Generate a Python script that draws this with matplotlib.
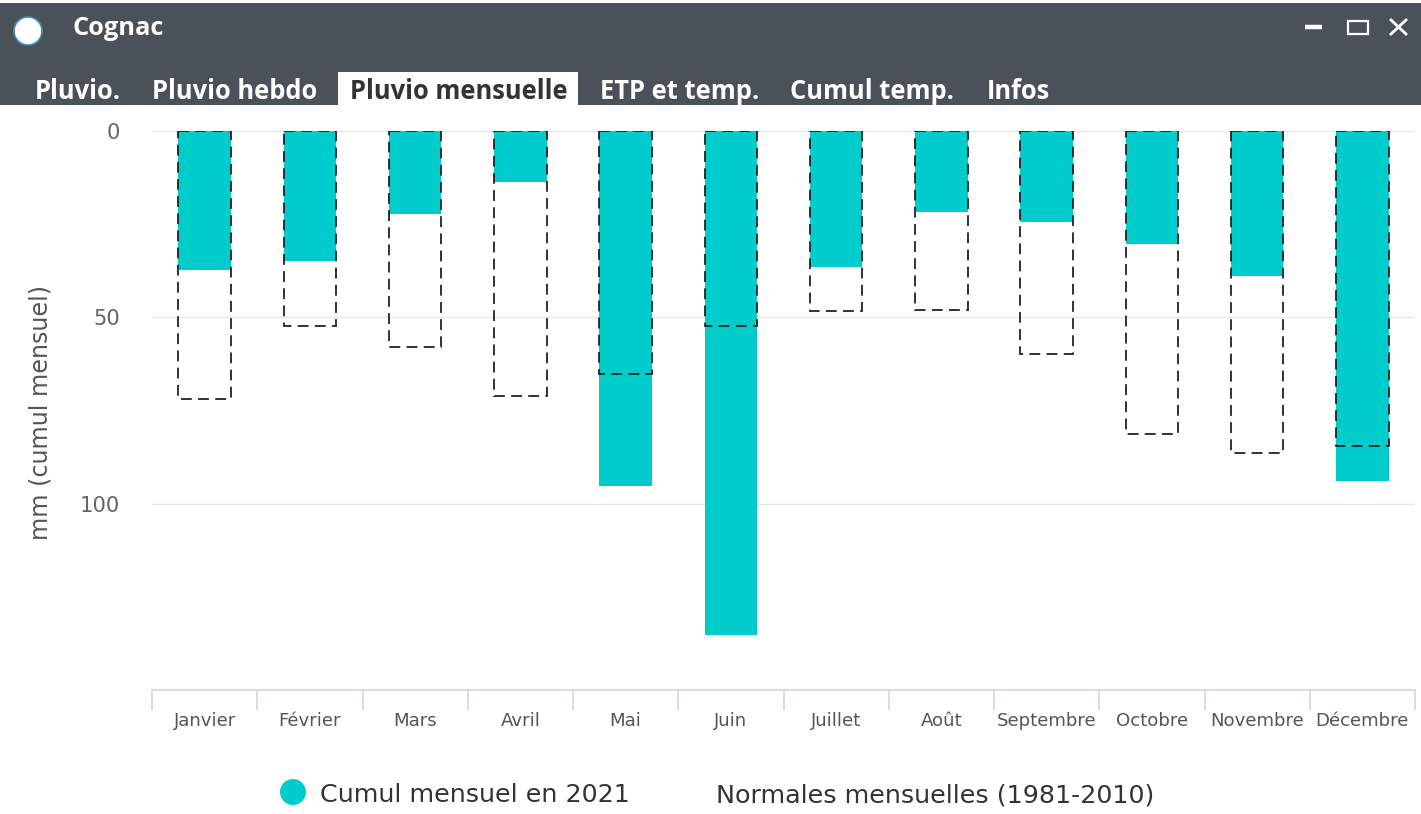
import matplotlib
matplotlib.use("Agg")
import matplotlib.pyplot as plt
from matplotlib.patches import Rectangle, Ellipse
from matplotlib.lines import Line2D
import numpy as np

months = ["Janvier", "Février", "Mars", "Avril", "Mai", "Juin", "Juillet",
          "Août", "Septembre", "Octobre", "Novembre", "Décembre"]
cumul_2021 = [37.4, 35.0, 22.2, 13.6, 95.2, 135.3, 36.6, 21.7, 24.3, 30.2, 38.8, 93.9]
normales = [71.9, 52.4, 58.0, 71.1, 65.2, 52.4, 48.4, 47.9, 59.9, 81.3, 86.4, 84.5]
yticks = [0, 50, 100]
tabs = ["Pluvio.", "Pluvio hebdo", "Pluvio mensuelle", "ETP et temp.", "Cumul temp.", "Infos"]
title = "Cognac"
ylabel = "mm (cumul mensuel)"
legend_labels = ["Cumul mensuel en 2021", "Normales mensuelles (1981-2010)"]

W, H = 1421, 814
fig = plt.figure(figsize=(W / 100, H / 100), dpi=100)
fig.patch.set_facecolor("white")
renderer = fig.canvas.get_renderer()
UI_FONT = ["Open Sans", "DejaVu Sans"]
CH_FONT = ["DejaVu Sans"]
CYAN = "#00cccc"


def fx(x):
    return x / W


def fy(y):
    return 1 - y / H


def fit_size(s, target_px, family, weight="normal"):
    t = fig.text(0, 0, s, fontsize=10, family=family, fontweight=weight)
    w = t.get_window_extent(renderer).width
    t.remove()
    return 10 * target_px / w


# Title bar
fig.patches.append(Rectangle((0, fy(105)), 1, fy(3) - fy(105), transform=fig.transFigure,
                             facecolor="#4b5159", edgecolor="none", zorder=0))
fig.patches.append(Ellipse((fx(28), fy(31)), 28 / W, 28 / H, transform=fig.transFigure,
                           facecolor="white", edgecolor="#3d8fb8", linewidth=1.2, zorder=2))
title_fs = fit_size(title, 91, UI_FONT, "bold")
fig.text(fx(72), fy(35), title, color="white", fontsize=title_fs, fontweight="bold",
         family=UI_FONT, va="baseline", ha="left")

# window controls
fig.lines.append(Line2D([fx(1305), fx(1322)], [fy(27), fy(27)], transform=fig.transFigure,
                        color="white", linewidth=3.2, solid_capstyle="butt"))
fig.patches.append(Rectangle((fx(1348), fy(34)), 20 / W, 13 / H, transform=fig.transFigure,
                             facecolor="none", edgecolor="white", linewidth=1.6, zorder=2))
fig.lines.append(Line2D([fx(1391), fx(1406)], [fy(20), fy(34)], transform=fig.transFigure,
                        color="white", linewidth=2.0))
fig.lines.append(Line2D([fx(1391), fx(1406)], [fy(34), fy(20)], transform=fig.transFigure,
                        color="white", linewidth=2.0))

# Tabs
tab_x = [35, 152, 350, 600, 790, 987]
tab_fs = fit_size("Pluvio hebdo", 166, UI_FONT, "bold")
fig.patches.append(Rectangle((fx(338), fy(105)), fx(578) - fx(338), fy(72) - fy(105),
                             transform=fig.transFigure, facecolor="white", edgecolor="none", zorder=1))
for t, x in zip(tabs, tab_x):
    col = "#333333" if t == "Pluvio mensuelle" else "white"
    fig.text(fx(x), fy(99), t, color=col, fontsize=tab_fs, fontweight="bold", family=UI_FONT,
             va="baseline", ha="left", zorder=3)

# Chart axes
ax = fig.add_axes([fx(152), fy(690), fx(1415) - fx(152), fy(131) - fy(690)])
x = np.arange(len(months))
ax.bar(x, cumul_2021, width=0.5, color=CYAN, edgecolor="none", zorder=2)
ax.bar(x, normales, width=0.5, facecolor="none", edgecolor="#222222", linewidth=1.3,
       linestyle=(0, (6, 3.5)), zorder=3)
ax.set_xlim(-0.5, len(months) - 0.5)
ax.set_ylim(150, 0)
ax.set_yticks(yticks)
ytick_fs = fit_size("100", 40, CH_FONT)
ax.set_yticklabels([str(v) for v in yticks], fontsize=ytick_fs, color="#666666", family=CH_FONT)
ax.tick_params(axis="y", length=0, pad=32 * 0.72)
ax.grid(axis="y", color="#e6e6e6", linewidth=1, zorder=0)
for s in ["top", "left", "right"]:
    ax.spines[s].set_visible(False)
ax.spines["bottom"].set_color("#ccd6eb")
ax.spines["bottom"].set_linewidth(1.2)
ax.set_xticks(np.arange(-0.5, len(months), 1.0))
ax.set_xticklabels([""] * (len(months) + 1))
ax.tick_params(axis="x", which="major", length=20 * 0.72, width=1.2, color="#ccd6eb", direction="out")
ax.set_xticks(x, minor=True)
xtick_fs = fit_size("Septembre", 100, CH_FONT)
ax.set_xticklabels(months, minor=True, fontsize=xtick_fs, color="#555555", family=CH_FONT)
ax.tick_params(axis="x", which="minor", length=0, pad=16)

ylabel_fs = fit_size(ylabel, 255, CH_FONT)
fig.text(fx(41), fy(412), ylabel, rotation=90, fontsize=ylabel_fs, color="#555555",
         family=CH_FONT, va="center", ha="center")

# Legend
fig.patches.append(Ellipse((fx(293), fy(792)), 26 / W, 26 / H, transform=fig.transFigure,
                           facecolor=CYAN, edgecolor="none"))
leg_fs = fit_size(legend_labels[1], 437, CH_FONT)
fig.text(fx(320), fy(802), legend_labels[0], fontsize=leg_fs, color="#333333",
         family=CH_FONT, va="baseline", ha="left")
fig.text(fx(716), fy(802), legend_labels[1], fontsize=leg_fs, color="#333333",
         family=CH_FONT, va="baseline", ha="left")

fig.savefig("out.png", dpi=100, facecolor="white")
